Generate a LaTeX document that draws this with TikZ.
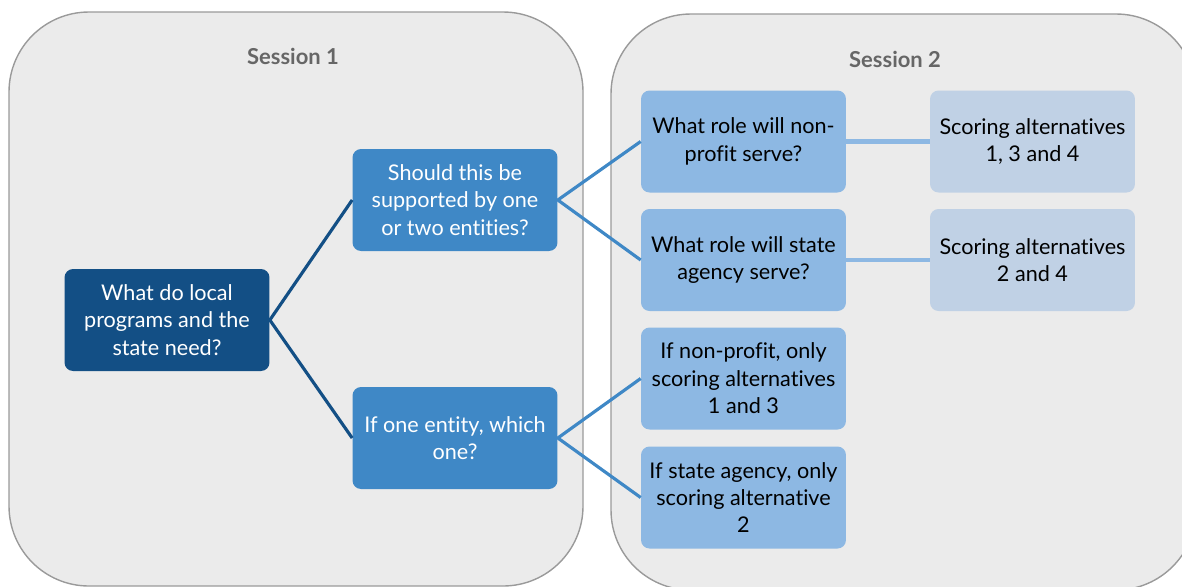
\documentclass[tikz,border=0pt]{standalone}
\usepackage{fontspec}
\setmainfont{Lato}[Ligatures=NoCommon]
\definecolor{panelfill}{HTML}{EBEBEB}
\definecolor{paneledge}{HTML}{9A9A9A}
\definecolor{titlegray}{HTML}{666666}
\definecolor{darkblue}{HTML}{134F85}
\definecolor{midblue}{HTML}{3F88C6}
\definecolor{lightblue}{HTML}{8DB8E3}
\definecolor{paleblue}{HTML}{C0D1E5}
\tikzset{
  panel/.style={draw=paneledge, fill=panelfill, line width=0.8pt, rounded corners=1.6cm},
  title/.style={text=titlegray, font=\bfseries\fontsize{12.5}{15}\selectfont},
  box/.style={rounded corners=0.17cm, minimum width=4.1cm, minimum height=2.04cm,
    align=center, font=\fontsize{12.3}{15.6}\selectfont, inner sep=0pt},
  rootbox/.style={box, fill=darkblue, text=white},
  qbox/.style={box, fill=midblue, text=white},
  rolebox/.style={box, fill=lightblue, text=black},
  scorebox/.style={box, fill=paleblue, text=black},
}
\begin{document}
\begin{tikzpicture}[x=0.02cm, y=-0.02cm]
\useasboundingbox (0,0) rectangle (1182,586);
% Session panels
\draw[panel] (9,12) rectangle (583,586);
\draw[panel] (611,14) rectangle (1196,590);
\node[title] (s1title) at (293,56) {Session 1};
\node[title] (s2title) at (895,59) {Session 2};

% Session 1 questions
\node[rootbox] (need) at (167,320) {What do local\\programs and the\\state need?};
\node[qbox] (howmany) at (455,200) {Should this be\\supported by one\\or two entities?};
\node[qbox] (which) at (455,438) {If one entity, which\\one?};

% Session 2 questions
\node[rolebox] (nonprofit) at (743.5,141.5) {What role will non-\\profit serve?};
\node[rolebox] (agency) at (743.5,260) {What role will state\\agency serve?};
\node[rolebox] (onlynp) at (743.5,378.5) {If non-profit, only\\scoring alternatives\\1 and 3};
\node[rolebox] (onlysa) at (743.5,497.5) {If state agency, only\\scoring alternative\\2};
\node[scorebox] (alt134) at (1032.5,141.5) {Scoring alternatives\\1, 3 and 4};
\node[scorebox] (alt24) at (1032.5,260) {Scoring alternatives\\2 and 4};

% Connectors
\draw[darkblue, line width=1.8pt] (howmany.west) -- (need.east) -- (which.west);
\draw[midblue, line width=1.8pt] (nonprofit.west) -- (howmany.east) -- (agency.west);
\draw[midblue, line width=1.8pt] (onlynp.west) -- (which.east) -- (onlysa.west);
\draw[lightblue, line width=2.4pt] (nonprofit) -- (alt134);
\draw[lightblue, line width=2.4pt] (agency) -- (alt24);
\end{tikzpicture}
\end{document}
